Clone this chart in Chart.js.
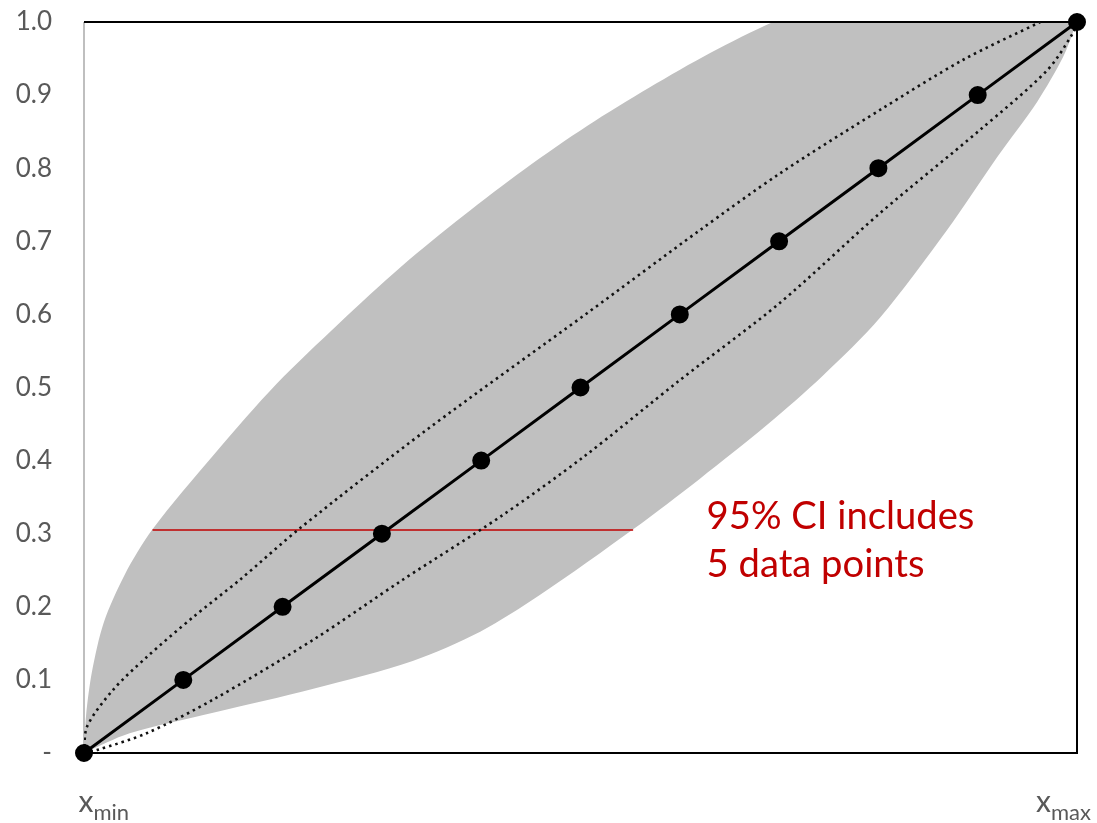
<!DOCTYPE html>
<html>
<head>
<meta charset="utf-8">
<script src="https://cdn.jsdelivr.net/npm/chart.js@4.4.1/dist/chart.umd.min.js"></script>
<style>
  html, body { margin: 0; background: #fff; }
  #wrap { width: 1097px; height: 823px; }
</style>
</head>
<body>
<div id="wrap"><canvas id="grafico"></canvas></div>
<script>
// y axis ticks and their labels
const yTicks = [0, 0.1, 0.2, 0.3, 0.4, 0.5, 0.6, 0.7, 0.8, 0.9, 1.0];
const yTickLabels = ["-", "0.1", "0.2", "0.3", "0.4", "0.5", "0.6", "0.7", "0.8", "0.9", "1.0"];
// x axis end labels: main letter + subscript
const xEndLabels = [["x", "min"], ["x", "max"]];

// observed points
const obsX = [0, 0.1, 0.2, 0.3, 0.4, 0.5, 0.6, 0.7, 0.8, 0.9, 1.0];
const obsY = [0, 0.1, 0.2, 0.3, 0.4, 0.5, 0.6, 0.7, 0.8, 0.9, 1.0];

// grey band, upper edge (left side); last points run past the top and get clipped
const bandUpX = [0, 0.002, 0.008, 0.020, 0.041, 0.069, 0.132, 0.194, 0.257, 0.319, 0.382, 0.444, 0.507, 0.569, 0.631, 0.694, 0.760, 1.0];
const bandUpY = [0, 0.050, 0.111, 0.179, 0.244, 0.306, 0.410, 0.505, 0.588, 0.665, 0.735, 0.799, 0.858, 0.910, 0.958, 1.0, 1.035, 1.035];
// grey band, lower edge (right side)
const bandLoX = [0, 0.046, 0.130, 0.231, 0.331, 0.399, 0.459, 0.553, 0.620, 0.688, 0.744, 0.802, 0.869, 0.919, 0.960, 0.986, 0.998, 1.0];
const bandLoY = [0, 0.027, 0.055, 0.088, 0.126, 0.166, 0.216, 0.306, 0.375, 0.449, 0.516, 0.596, 0.715, 0.814, 0.891, 0.952, 0.993, 1.0];

// dotted curves
const dotUpX = [0, 0.003, 0.029, 0.063, 0.110, 0.157, 0.218, 0.345, 0.507, 0.620, 0.701, 0.802, 0.885, 0.963];
const dotUpY = [0, 0.036, 0.086, 0.131, 0.186, 0.237, 0.308, 0.442, 0.602, 0.715, 0.793, 0.880, 0.948, 1.0];
const dotLoX = [0, 0.013, 0.063, 0.130, 0.231, 0.321, 0.419, 0.503, 0.600, 0.701, 0.802, 0.902, 0.970, 0.996, 1.0];
const dotLoY = [0, 0.004, 0.027, 0.073, 0.155, 0.237, 0.323, 0.405, 0.510, 0.616, 0.739, 0.852, 0.934, 0.985, 1.0];

// red CI segment and note
const ciLevel = 0.305;
const ciFrom = 0.069;
const ciTo = 0.553;
const noteLines = ["95% CI includes", "5 data points"];

const pts = (xs, ys) => xs.map((x, i) => ({ x: x, y: ys[i] }));
const bandShape = pts(bandUpX, bandUpY).concat(pts(bandLoX, bandLoY).reverse());

const framePlugin = {
  id: "frame",
  afterDatasetDraw(chart, args) {
    if (chart.data.datasets[args.index].label !== "band") return;
    const a = chart.chartArea;
    const ctx = chart.ctx;
    ctx.save();
    ctx.lineWidth = 2;
    ctx.strokeStyle = "#bfbfbf";
    ctx.beginPath();
    ctx.moveTo(a.left, a.top);
    ctx.lineTo(a.left, a.bottom);
    ctx.stroke();
    ctx.strokeStyle = "#000";
    ctx.beginPath();
    ctx.moveTo(a.left, a.top);
    ctx.lineTo(a.right, a.top);
    ctx.lineTo(a.right, a.bottom);
    ctx.lineTo(a.left, a.bottom);
    ctx.stroke();
    ctx.restore();
  },
  afterDraw(chart) {
    const ctx = chart.ctx;
    const xs = chart.scales.x;
    const ys = chart.scales.y;
    ctx.save();
    // x end labels with subscript
    ctx.fillStyle = "#595959";
    ctx.textBaseline = "alphabetic";
    [0, 1].forEach((v, i) => {
      const lab = xEndLabels[i];
      ctx.font = "30px Lato";
      const w1 = ctx.measureText(lab[0]).width;
      let x0 = xs.getPixelForValue(v) - w1 / 2 + 2;
      if (i === 1) x0 = xs.getPixelForValue(v) - 41;
      ctx.fillText(lab[0], x0, 812);
      ctx.font = "22px Lato";
      ctx.fillText(lab[1], x0 + w1, 820);
    });
    // note text, sized to the width in the picture
    ctx.fillStyle = "#c00000";
    ctx.font = "36px Lato";
    const w = ctx.measureText(noteLines[0]).width;
    const size = 36 * 268 / w;
    ctx.font = size.toFixed(1) + "px Lato";
    const nx = xs.getPixelForValue(0.627);
    noteLines.forEach((t, i) => ctx.fillText(t, nx, ys.getPixelForValue(0.31) + 3 + i * 48));
    ctx.restore();
  }
};

new Chart(document.getElementById("grafico"), {
  type: "scatter",
  data: {
    datasets: [
      {
        label: "observed",
        data: pts(obsX, obsY),
        showLine: true,
        borderColor: "#000",
        borderWidth: 3,
        pointRadius: 7.5,
        pointBackgroundColor: "#000",
        pointBorderColor: "#000",
        clip: false,
        order: 0
      },
      {
        label: "upper",
        data: pts(dotUpX, dotUpY),
        showLine: true,
        borderColor: "#111",
        borderWidth: 2.6,
        borderDash: [2.5, 4],
        pointRadius: 0,
        tension: 0.3,
        order: 1
      },
      {
        label: "lower",
        data: pts(dotLoX, dotLoY),
        showLine: true,
        borderColor: "#111",
        borderWidth: 2.6,
        borderDash: [2.5, 4],
        pointRadius: 0,
        tension: 0.3,
        order: 1
      },
      {
        label: "ci",
        data: [{ x: ciFrom, y: ciLevel }, { x: ciTo, y: ciLevel }],
        showLine: true,
        borderColor: "#c00000",
        borderWidth: 1.5,
        pointRadius: 0,
        order: 2
      },
      {
        label: "band",
        data: bandShape,
        showLine: true,
        fill: "shape",
        backgroundColor: "#c0c0c0",
        borderColor: "rgba(0,0,0,0)",
        borderWidth: 0,
        pointRadius: 0,
        tension: 0.3,
        capBezierPoints: false,
        order: 3
      }
    ]
  },
  options: {
    responsive: true,
    maintainAspectRatio: false,
    animation: false,
    layout: { padding: { top: 22, right: 20, left: 0, bottom: 0 } },
    plugins: {
      legend: { display: false },
      tooltip: { enabled: false }
    },
    scales: {
      x: {
        type: "linear",
        min: 0,
        max: 1,
        grid: { display: false, drawTicks: false },
        border: { display: false },
        ticks: { display: false },
        afterFit(scale) {
          scale.height = 70;
          scale.paddingLeft = 0;
          scale.paddingRight = 0;
        }
      },
      y: {
        type: "linear",
        min: 0,
        max: 1,
        grid: { display: false, drawTicks: false },
        border: { display: false },
        afterBuildTicks(scale) { scale.ticks = yTicks.map(v => ({ value: v })); },
        afterFit(scale) {
          scale.width = 84;
          scale.paddingTop = 0;
          scale.paddingBottom = 0;
        },
        ticks: {
          padding: 32,
          color: "#595959",
          font: { family: "Lato", size: 26 },
          callback: (v, i) => yTickLabels[i]
        }
      }
    }
  },
  plugins: [framePlugin]
});
</script>
</body>
</html>
